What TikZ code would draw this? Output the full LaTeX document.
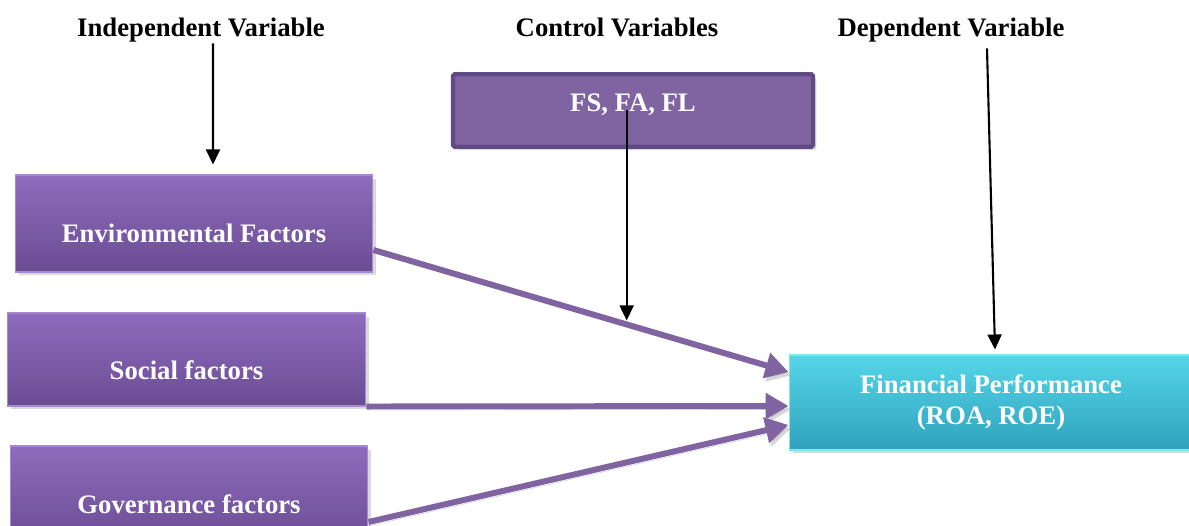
\documentclass[tikz,border=0pt]{standalone}
\usepackage{fontspec}
\setmainfont{Liberation Serif}
\usetikzlibrary{arrows.meta, shadows}
\usepackage{xcolor}
\definecolor{FactorTop}{HTML}{8E6CBE}
\definecolor{FactorBottom}{HTML}{6A4C92}
\definecolor{FactorEdge}{HTML}{A58AD0}
\definecolor{ControlFill}{HTML}{8064A2}
\definecolor{ControlEdge}{HTML}{604A84}
\definecolor{OutcomeTop}{HTML}{55D6E8}
\definecolor{OutcomeBottom}{HTML}{2FA2BD}
\definecolor{ArrowPurple}{HTML}{8064A2}

\begin{document}
\begin{tikzpicture}[
            x=0.02cm, y=-0.02cm,
            font=\bfseries\fontsize{15.2}{18}\selectfont,
            heading/.style={inner sep=0pt, text=black, text height=0.7em, text depth=0.22em},
            box/.style={rectangle, text=white, align=center, inner sep=0pt,
                drop shadow={shadow xshift=0.07cm, shadow yshift=-0.07cm, opacity=0.3}},
            factor/.style={box, top color=FactorTop, bottom color=FactorBottom, draw=FactorEdge, line width=0.6pt,
                minimum width=7.16cm, text height=2.35em, text depth=0.2em},
            control/.style={box, fill=ControlFill, draw=ControlEdge, line width=2.5pt, rounded corners=1pt,
                minimum width=7.2cm, minimum height=1.45cm, text height=0.7em, text depth=0.54em},
            outcome/.style={box, top color=OutcomeTop, bottom color=OutcomeBottom, draw=OutcomeTop!70!white, line width=0.6pt,
                minimum width=8.08cm, minimum height=1.9cm},
            arrow/.style={-{Triangle[length=0.3cm, width=0.28cm]}, line width=1.2pt, color=black},
            purplearrow/.style={-{Triangle[length=0.46cm, width=0.5cm]}, line width=3.4pt, color=ArrowPurple,
                preaction={draw=black!30, opacity=0.5, transform canvas={xshift=0.05cm, yshift=-0.07cm}}}
        ]
            \useasboundingbox (0,0) rectangle (1189,526);

            % headings
            \node[heading] (indep) at (201,32) {Independent Variable};
            \node[heading] (ctrl) at (617,32) {Control Variables};
            \node[heading] (dep) at (951,32) {Dependent Variable};

            % boxes
            \node[control] (fs) at (633,110.5) {FS, FA, FL};
            \node[factor, minimum height=1.94cm] (env) at (194,223.5) {Environmental Factors};
            \node[factor, minimum height=1.86cm, minimum width=7.18cm, text height=2.45em] (social) at (186.5,359.5) {Social factors};
            \node[factor, minimum height=1.94cm] (gov) at (189,494.5) {Governance factors};
            \node[outcome] (fin) at (991,402.5) {Financial Performance\\(ROA, ROE)};

            % factor arrows
            \draw[purplearrow] ([yshift=-0.53cm]env.east) -- coordinate[pos=0.61] (ctrlhit) ([yshift=0.61cm]fin.west);
            \draw[purplearrow] (social.south east) -- ([yshift=-0.07cm]fin.west);
            \draw[purplearrow] ([yshift=-0.55cm]gov.east) -- ([yshift=-0.45cm]fin.west);

            % heading arrows
            \draw[arrow] ([xshift=0.24cm, yshift=-0.06cm]indep.south) -- ([xshift=0.38cm, yshift=0.2cm]env.north);
            \draw[arrow] ([xshift=0.72cm, yshift=-0.16cm]dep.south) -- ([xshift=0.08cm, yshift=0.1cm]fin.north);
            \draw[arrow] (ctrlhit |- fs.center) -- ([yshift=0.08cm]ctrlhit);
        \end{tikzpicture}
\end{document}
